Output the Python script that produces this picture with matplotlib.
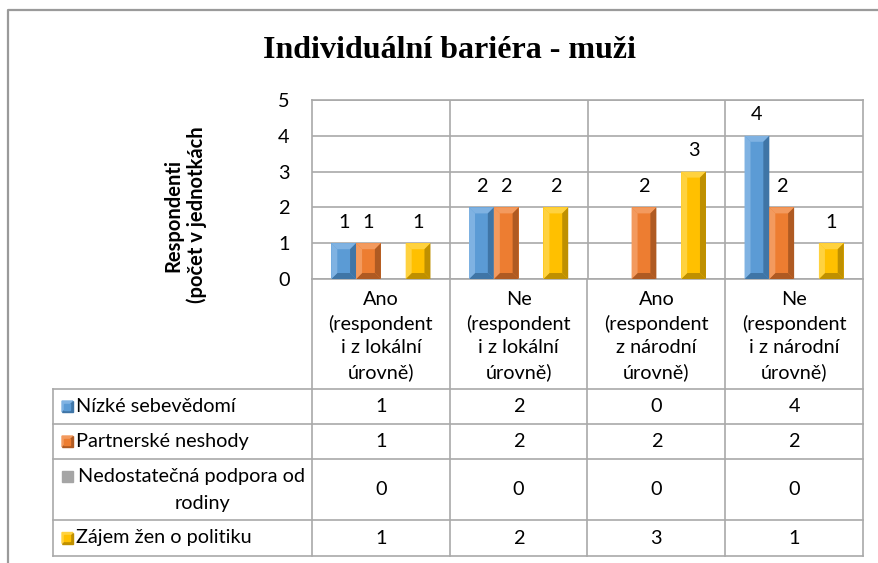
import matplotlib
matplotlib.use('Agg')
import matplotlib.pyplot as plt
from matplotlib.patches import Polygon, Rectangle

plt.rcParams['font.family'] = ['Lato', 'DejaVu Sans']

title = 'Individuální bariéra - muži'
ylabel = 'Respondenti\n(počet v jednotkách'
categories = ['Ano\n(respondent\ni z lokální\núrovně)',
              'Ne\n(respondent\ni z lokální\núrovně)',
              'Ano\n(respondent\nz národní\núrovně)',
              'Ne\n(respondent\ni z národní\núrovně)']
series_names = ['Nízké sebevědomí', 'Partnerské neshody',
                'Nedostatečná podpora od\nrodiny', 'Zájem žen o politiku']
nizke = [1, 2, 0, 4]
partnerske = [1, 2, 2, 2]
podpora = [0, 0, 0, 0]
zajem = [1, 2, 3, 1]
series = [nizke, partnerske, podpora, zajem]

# face, light facet, dark facet
colors = [('#5B9BD5', '#7FB2E2', '#3F75A6'),
          ('#ED7D31', '#F39A5E', '#AF5A22'),
          ('#A5A5A5', '#C4C4C4', '#787878'),
          ('#FFC000', '#FFD23F', '#BF9000')]
grid_c = '#A9A9A9'
fs = 14.3

W, H = 879, 563
fig = plt.figure(figsize=(W / 100, H / 100), dpi=100)

# plot area in pixels
L, R, T, B = 312, 863, 100, 279
ax = fig.add_axes([L / W, 1 - B / H, (R - L) / W, (B - T) / H])
n = len(categories)
ax.set_xlim(-0.5, n - 0.5)
ax.set_ylim(0, 5)
ax.set_yticks(range(6))
ax.set_xticks([])
ax.tick_params(axis='y', length=0, pad=16, labelsize=fs)
ax.yaxis.grid(True, color=grid_c, lw=1.2)
ax.set_axisbelow(True)
for s in ax.spines.values():
    s.set_color(grid_c)
    s.set_linewidth(1.2)
for b in range(1, n):
    ax.axvline(b - 0.5, color=grid_c, lw=1.2, zorder=0.5)

bw = 0.18
dx = 6 * (n / (R - L))
dy = 6 * (5 / (B - T))
for i, vals in enumerate(series):
    face, light, dark = colors[i]
    xs = [c + (i - 1.5) * bw for c in range(n)]
    bars = ax.bar(xs, vals, width=bw, color=face, zorder=2)
    for rect, v in zip(bars.patches, vals):
        if v == 0:
            continue
        x0 = rect.get_x()
        x1 = x0 + rect.get_width()
        h = rect.get_height()
        ddy = min(dy, h / 2)
        facets = [
            ([(x0, h), (x1, h), (x1 - dx, h - ddy), (x0 + dx, h - ddy)], light),
            ([(x0, 0), (x1, 0), (x1 - dx, ddy), (x0 + dx, ddy)], dark),
            ([(x0, 0), (x0, h), (x0 + dx, h - ddy), (x0 + dx, ddy)], light),
            ([(x1, 0), (x1, h), (x1 - dx, h - ddy), (x1 - dx, ddy)], dark),
        ]
        for pts, c in facets:
            ax.add_patch(Polygon(pts, closed=True, color=c, lw=0, zorder=3))
        ax.annotate(str(v), (rect.get_x() + rect.get_width() / 2, h),
                    xytext=(0, 9), textcoords='offset points',
                    ha='center', va='bottom', fontsize=fs)

# overlay axes in pixel coordinates for title, table and border
ov = fig.add_axes([0, 0, 1, 1], zorder=-1)
ov.set_xlim(0, W)
ov.set_ylim(H, 0)
ov.axis('off')

ov.plot([8, 8, W + 5], [H + 5, 10, 10], color='#9A9A9A', lw=1.6)

ov.text(450, 50, title, ha='center', va='center', fontsize=23,
        fontweight='bold', family='Liberation Serif')
ov.text(185, 215, ylabel, ha='center', va='center', rotation=90,
        fontsize=14.5, fontweight='bold', linespacing=1.15)

colw = (R - L) / n
# category label row
for k, lab in enumerate(categories):
    ov.text(L + colw * (k + 0.5), 336, lab, ha='center', va='center',
            fontsize=fs, linespacing=1.45)

# data table
TL = 53
rows = [389, 424, 459, 520, 556]
for y in rows:
    ov.plot([TL, R], [y, y], color=grid_c, lw=1.2)
ov.plot([TL, TL], [rows[0], rows[-1]], color=grid_c, lw=1.2)
for k in range(n + 1):
    ov.plot([L + colw * k] * 2, [B, rows[-1]], color=grid_c, lw=1.2)

for i, vals in enumerate(series):
    yc = (rows[i] + rows[i + 1]) / 2
    face, light, dark = colors[i]
    ks = 11
    kx, ky = 62, yc - ks / 2
    if i == 2:
        ky = yc - 13 - ks / 2
        ov.add_patch(Rectangle((kx, ky), ks, ks, color=face))
    else:
        ov.add_patch(Polygon([(kx, ky), (kx + ks, ky), (kx, ky + ks)],
                             closed=True, color=light))
        ov.add_patch(Polygon([(kx + ks, ky), (kx + ks, ky + ks), (kx, ky + ks)],
                             closed=True, color=dark))
        ov.add_patch(Rectangle((kx + 2.5, ky + 2.5), ks - 5, ks - 5, color=face))
    if i == 2:
        ov.text(kx + ks + 5, yc - 13, series_names[i].split('\n')[0],
                ha='left', va='center', fontsize=fs)
        ov.text((TL + L) / 2 + 20, yc + 14, series_names[i].split('\n')[1],
                ha='center', va='center', fontsize=fs)
    else:
        ov.text(kx + ks + 3, yc, series_names[i], ha='left', va='center',
                fontsize=fs)
    for k, v in enumerate(vals):
        ov.text(L + colw * (k + 0.5), yc, str(v), ha='center', va='center',
                fontsize=fs)

fig.savefig('out.png', dpi=100)
